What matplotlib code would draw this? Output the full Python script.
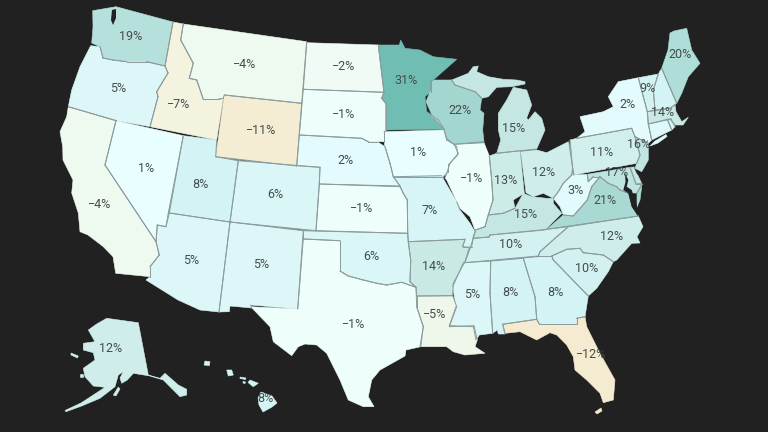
import matplotlib
matplotlib.use("Agg")
import matplotlib.pyplot as plt
from matplotlib.colors import LinearSegmentedColormap, Normalize
from matplotlib.patches import Polygon
from matplotlib.path import Path

# ---- data: change per state, percent ----
states = ["WA","OR","CA","NV","ID","MT","WY","UT","CO","AZ","NM","ND","SD","NE","KS","OK","TX",
          "MN","IA","MO","AR","LA","WI","IL","IN","MI","OH","KY","TN","MS","AL","GA","FL","SC",
          "NC","VA","WV","PA","NY","VT","ME","MA","NJ","MD","AK","HI"]
values = [19,5,-4,1,-7,-4,-11,8,6,5,5,-2,-1,2,-1,6,-1,
          31,1,7,14,-5,22,-1,13,15,12,15,10,5,8,8,-12,10,
          12,21,3,11,2,9,20,14,16,17,12,8]
unlabelled_states = ["NH","CT","RI","DE"]
unlabelled_values = [8,4,7,15]

label_pos = dict(WA=(131,37),OR=(118,89),CA=(100,204),NV=(146,168),ID=(179,105),MT=(245,65),WY=(261,130),
    UT=(200,184),CO=(275,195),AZ=(191,260),NM=(261,265),ND=(344,67),SD=(344,114),NE=(346,161),KS=(362,209),
    OK=(371,257),TX=(354,325),MN=(406,80),IA=(418,153),MO=(430,210),AR=(434,267),LA=(435,314),WI=(460,111),
    IL=(472,179),IN=(506,181),MI=(514,128),OH=(544,173),KY=(526,214),TN=(511,245),MS=(472,294),AL=(510,293),
    GA=(555,292),FL=(591,355),SC=(587,268),NC=(612,237),VA=(605,200),WV=(575,191),PA=(602,152),NY=(628,105),
    VT=(648,89),ME=(680,54),MA=(663,113),NJ=(639,145),MD=(617,173),AK=(111,349),HI=(265,398))

# ---- state outlines traced in image pixels (map geometry) ----
WI_MI_BORDER = [(451.7,80),(455,85),(475,91.7),(481.7,98.3)]
shapes = {
 "WA":[[(92.7,10.7),(116,6.7),(173,22),(165,66),(146.7,61.7),(126.7,61.7),(113,60),(103,58),(100,46.7),(91.7,43),(93,27)]],
 "OR":[[(90.7,45.7),(100,46.7),(103,58),(113,60),(126.7,61.7),(146.7,61.7),(165,66),(168,73),(156.7,91.7),(158,96.7),(150,126.7),(116.7,120.7),(68.3,106.7),(71.7,90),(80,66.7)]],
 "CA":[[(68.3,106.7),(116,120.7),(105,165),(156,241.7),(159.3,255),(150,266.7),(150,276.7),(115.7,273.3),(113,256.7),(103.3,246.7),(88,235),(80,231.7),(78.3,213),(71.7,193),(73,180),(63,160),(62.7,146.7),(60,131.7),(66.7,116.7)]],
 "NV":[[(116,120.7),(183.3,135.7),(168.3,213),(166,226.7),(157.3,225),(156,241.7),(105,165)]],
 "ID":[[(173,22),(183.3,24),(180.7,40),(193.3,63.3),(189.3,78.3),(196.7,80),(203.3,99.3),(218.3,99.3),(223.3,98.3),(216.7,140),(150,126.7),(158,96.7),(156.7,91.7),(168,73),(165,66)]],
 "MT":[[(183.3,24),(306.7,41.7),(301.7,103.3),(224.3,95),(223.3,98.3),(218.3,99.3),(203.3,99.3),(196.7,80),(189.3,78.3),(193.3,63.3),(180.7,40)]],
 "WY":[[(224.3,95),(301.7,103.3),(296.7,166),(215.7,156.7)]],
 "UT":[[(183.3,135.7),(216.7,140),(215.7,156.7),(238.3,160.7),(230,222),(169.3,213)]],
 "CO":[[(238.3,160.7),(320,167.3),(319.3,184),(316,230.7),(230,222)]],
 "AZ":[[(169.3,213),(230,222),(219,312),(200,310),(178,300),(146,280),(150,276.7),(150,266.7),(159.3,255),(156,241.7),(157.3,225),(166,226.7)]],
 "NM":[[(230,222),(303.3,230.7),(297.7,309),(250.7,305),(251.7,308),(230,306),(229.3,311.7),(219,312)]],
 "ND":[[(306.7,42.7),(378.3,45),(384,92.3),(303.3,89.3)]],
 "SD":[[(303.3,89.3),(384,92.3),(381.7,98.3),(385.7,103.3),(385.7,130.7),(384,131.7),(384,141.7),(377.3,141.7),(368.3,141.7),(361.7,138.3),(299.3,135)]],
 "NE":[[(299.3,135),(361.7,138.3),(368.3,141.7),(377.3,141.7),(385,146.7),(390,163.3),(393.3,176.7),(400,186),(319.3,184),(320,167.3),(296.7,165.7)]],
 "KS":[[(319.3,184),(400,186.7),(403.3,193.3),(407.3,200),(407.7,233.3),(316,230.7)]],
 "OK":[[(303.3,230.7),(407.7,233.3),(408.3,241.7),(410.7,260),(410,281.7),(416,287.3),(401.7,282.3),(386.7,285),(376.7,283.3),(363.3,280),(348.3,276),(340,271),(340,240.7),(303.3,239)]],
 "TX":[[(303.3,239),(340,240.7),(340,271),(348.3,276),(363.3,280),(376.7,283.3),(386.7,285),(401.7,282.3),(416,287.3),(416.7,306.7),(423.3,326.7),(420.7,346.7),(406,350),(405,356),(380,370),(371.7,380),(368.3,396.7),(374,406.7),(363.3,406.7),(348.3,400),(340,380),(326.7,353.3),(316.7,345),(305,344),(298.3,346.7),(291.7,355.7),(273.3,341.7),(270,326.7),(250.7,306.7),(297.7,309)]],
 "MN":[[(378.3,45),(399.3,45),(400.7,40),(405,48.3),(420,50),(433.3,56.7),(456.7,59.3),(433.3,80),(430.7,81.7),(430.7,91.7),(425,96.7),(426.7,111.7),(438.3,120),(444.3,129.3),(385.7,130),(385.7,103.3),(381.7,98.3),(384,92.3)]],
 "IA":[[(384,131.7),(444,130),(446.7,138.3),(456.7,146.7),(457.7,155),(448.3,165),(448.3,171.7),(443.3,176.7),(393.3,176.7),(390,163.3),(385,146.7),(384,141.7)]],
 "MO":[[(393.3,176.7),(441.7,175.7),(445,181.7),(456.7,201.7),(460,210),(470,223.3),(475,231.7),(473.3,236.7),(471.7,246.7),(462.7,246.7),(465,239.3),(408.3,241.7),(407.7,233.3),(407.3,200),(403.3,193.3),(400,186)]],
 "AR":[[(408.3,241.7),(465,239.3),(462.7,246.7),(469.3,247.7),(465,261.7),(453.3,283.3),(452.7,295.7),(416.7,296),(416,287.3),(410,281.7),(410.7,260)]],
 "LA":[[(416.7,296),(452.7,295.7),(456.7,306.7),(449.3,326.7),(474,325.7),(477.3,340),(475,346.7),(485,353.3),(465,355),(453.3,351.7),(446.7,346.7),(420,346.7),(423.3,326.7),(416.7,306.7)]],
 "WI":[[(431.7,80),*WI_MI_BORDER,(480,110),(484,113.3),(482.7,130),(484,141.7),(454,144.3),(446.7,140),(444,129.3),(433.3,118.3),(426,101.7),(430,91.7)]],
 "IL":[[(454,144.3),(484,142.7),(489.3,156),(491.7,180),(493,200),(488.3,215),(485,226.7),(475,230),(470,216.7),(460,208.3),(446.7,180),(445,178),(450,163.3),(458.3,153.3)]],
 "IN":[[(489.3,156),(496.7,153.3),(520,150.7),(524.3,193.3),(513.3,200),(515,208.3),(503.3,213.3),(488.3,215),(493,200),(491.7,180)]],
 "OH":[[(520.7,151.7),(536.7,150),(546.7,152.7),(568.3,141.7),(569,143.3),(572.7,168.3),(571.7,175),(563.3,183.3),(558.3,191.7),(553.3,198.3),(543.3,193.3),(533.3,196.7),(526,192.7)]],
 "KY":[[(475.7,230),(485,226.7),(488.3,215),(503.3,213.3),(515,208.3),(523.3,193.3),(531.7,196.7),(546.7,198.3),(553.3,198.3),(553.3,203.3),(561.7,213.3),(545,230),(490,235),(489,237),(473.3,238.3)]],
 "TN":[[(473.3,238.3),(489,237),(490,235),(546.7,229.3),(568.3,226.7),(555,238.3),(540,251.7),(538.3,256),(465,262.7),(470,248.3)]],
 "MS":[[(463.3,262.7),(490.7,261),(490,293.3),(492.7,333.3),(479.3,335),(476,340),(473.3,326.7),(449.3,325.7),(456,306.7),(452.7,286.7)]],
 "AL":[[(490.7,261),(523.3,258.3),(535,296.7),(536.7,319.3),(502.7,324.3),(505,334),(498.3,334),(497.3,330),(492.7,333.3),(490,293.3)]],
 "GA":[[(523.3,258.3),(551.7,256),(553.3,260),(588.3,296),(585,316.7),(576.7,318.3),(576.7,324),(539.3,324),(536.7,319.3),(535,296.7)]],
 "FL":[[(502.7,324.3),(536.7,319.3),(539.3,324),(576.7,324),(576.7,318.3),(585,316.7),(586.7,326.7),(600,353.3),(615,380),(613.3,400),(603.3,402.7),(600,393.3),(586.7,380),(575,370),(573.3,356.7),(566.7,345),(556.7,335),(550,332.7),(536.7,340),(520,331.7),(505,333.3)],
       [(595,412),(601,408),(602,411),(597,414)]],
 "SC":[[(551.7,256),(566.7,249.3),(580,248.3),(583.3,252.7),(603.3,255),(613.3,261.7),(608.3,271.7),(596.7,288.3),(588.3,296),(553.3,260)]],
 "NC":[[(568.3,226.7),(638.3,216),(643,226.7),(637,236.7),(640,243),(631.7,243.3),(616.7,260),(613.3,261.7),(603.3,255),(583.3,252.7),(580,248.3),(566.7,249.3),(551.7,256),(538.3,256),(540,251.7),(555,238.3)]],
 "VA":[[(546.7,229.3),(563.3,215),(573.3,216),(587.3,200),(591.7,186.7),(600,176.7),(608.3,183.3),(616.7,186.7),(620,190),(628.3,193.3),(631.7,206.7),(638.3,216)],
       [(637,193),(642,184),(640,200),(637,207)]],
 "WV":[[(572.7,168.3),(571.7,175),(563.3,183.3),(558.3,191.7),(553.3,198.3),(560,206.7),(563.3,215),(573.3,216),(587.3,200),(591.7,186.7),(600,176.7),(593.3,176.7),(588.3,181.7),(587.3,174.3),(574,175)]],
 "PA":[[(570,140),(576.7,138.3),(631.7,128.3),(635,136.7),(640,155),(636.7,163.3),(573.3,175)]],
 "NY":[[(576.7,138.3),(585,131.7),(580,116.7),(603.3,111.7),(613.3,106.7),(608.3,96.7),(618.3,81.7),(638.3,77.7),(643.3,96.7),(647.3,111.7),(648.3,124),(651.7,140),(648.3,143.3),(635,136.7),(631.7,128.3)],
       [(650,146),(655,141),(666,134.5),(667,136.5),(658,143)]],
 "NJ":[[(635,136.7),(648.3,143.3),(648.3,160),(641.7,171.7),(635,168.3),(636.7,163.3),(640,155)]],
 "DE":[[(630,167.3),(634,167),(641.7,183.5),(636,184)]],
 "MD":[[(587.3,174.3),(630,167.3),(636,184),(642,184),(637,193),(628,193),(620,190),(616.7,186.7),(608.3,183.3),(600,176.7),(593.3,176.7),(588.3,181.7)]],
 "VT":[[(638.3,77.7),(658.3,74),(653.3,90),(655,110),(647.3,111.7),(643.3,96.7)]],
 "NH":[[(658.3,74),(661.7,68.3),(676.7,103.3),(670,108.3),(655,110),(653.3,90)]],
 "ME":[[(661.7,68.3),(668,50),(670,33),(674,31),(686.7,28.3),(691.7,50),(700,63.3),(688.3,76.7),(681.7,93.3),(676.7,103.3)]],
 "MA":[[(647.3,111.7),(670,108.3),(675,105),(676,111.7),(681.7,121.7),(688.3,117.3),(683,125),(675,125),(670,119.3),(648.3,124)]],
 "CT":[[(648.3,124),(667.3,119.3),(671.7,130),(651.7,140)]],
 "RI":[[(667.3,119.3),(671,118.7),(675,126.7),(671.7,130)]],
 "MI":[[(451.7,80),(468.3,73.3),(473.3,66.7),(478.3,66),(476.7,71.7),(488.3,76.7),(503.3,79.3),(516.7,80),(525,81.7),(525,84),(511.7,86.7),(496.7,87.3),(488.3,96.7),(481.7,98.3),(475,91.7),(455,85)],
       [(496.7,153.3),(536.7,149),(545,130),(541.7,118.3),(535,111.7),(528.3,120),(526.7,118),(531.7,105),(526.7,90),(513.3,87.3),(506.7,100),(498.3,113.3),(498.3,130),(500.7,140)]],
 "AK":[[(106.7,318.3),(138.3,322.7),(148.3,375),(160,378.3),(165,373.3),(178.3,385),(186.7,389.3),(186.7,395),(180,396.7),(163.3,380),(150,376),(133.3,373.3),(127.3,380),(121.7,383.3),(120,378),(123.3,371.7),(118.3,375),(115,386.7),(100,398.3),(81.7,406),(66,411.7),(65,410.5),(81,403),(93.3,395),(105,387.3),(93.3,386),(85,376.7),(83.3,368.3),(95,360),(93.3,352.7),(83.3,350),(83.3,343.3),(95,341.7),(88.3,330),(96.7,324)],
       [(118.3,387),(113.3,395),(116,396),(120,389)],[(71,353),(78.3,356),(77.5,358),(71,355)],[(80,374),(83,374),(83,377),(80,377)]],
 "HI":[[(261,392),(272,396),(277,403),(272,407),(263,412),(259,405),(258,398)],[(250,380),(258.3,383.3),(253.3,386.7),(248,382.5)],
       [(226.7,370),(231.7,370),(233.3,375),(228.3,376)],[(205,361),(210,361.7),(209.3,365.7),(204,365)],[(240,377),(246,378),(245.5,379.5),(240,378.5)],[(243,381.5),(245.5,382),(245,383.5),(243,383)]],
}
# Chesapeake Bay, Puget Sound and Delaware Bay cut-outs
water = [
 [(625,173.3),(628.3,180),(626.7,186.7),(631.7,190),(636.7,205),(638.3,216.7),(631.7,206.7),(628.3,193.3),(623.3,190),(625.5,182)],
 [(112,10),(116,9),(116,18),(113,25),(111,20)],
 [(634,167.5),(636,170),(640,176),(637,174)],
]

# ---- styling ----
BG = "#212121"
LINE = "#8c9c9c"
stops = [(-12,"#f5ebd0"),(-11,"#f5edd3"),(-7,"#f3f3e0"),(-5,"#eff7ea"),(-4,"#eef9f1"),(-2,"#f0fbf6"),(-1,"#eefefb"),
         (1,"#e8feff"),(2,"#e3fbfd"),(5,"#ddf7f9"),(8,"#d4f3f4"),(12,"#cfeeeb"),(14,"#c9e9e5"),(19,"#b5e0dc"),(22,"#a3d6cf"),(31,"#6fbdb3")]
norm = Normalize(-12, 31)
cmap = LinearSegmentedColormap.from_list("div", [(float(norm(v)), c) for v, c in stops])

plt.rcParams["font.family"] = ["Roboto", "DejaVu Sans"]
fig = plt.figure(figsize=(7.68, 4.32), dpi=100, facecolor=BG)
ax = fig.add_axes([0, 0, 1, 1], facecolor=BG)
ax.set_xlim(0, 768); ax.set_ylim(432, 0); ax.axis("off")

all_vals = dict(zip(states + unlabelled_states, values + unlabelled_values))
paths = {st: [Path(p + [p[0]]) for p in parts] for st, parts in shapes.items()}
for st, parts in shapes.items():
    col = cmap(norm(all_vals[st]))
    for p in parts:
        ax.add_patch(Polygon(p, closed=True, facecolor=col, edgecolor=col, linewidth=0.4))

def near_other(pt, st):
    for other, plist in paths.items():
        if other == st:
            continue
        for path in plist:
            if path.contains_point(pt, radius=1.6) or path.contains_point(pt, radius=-1.6):
                return True
    return False

# only state-to-state borders get a line; coasts stay clean
for st, parts in shapes.items():
    for p in parts:
        q = p + [p[0]]
        for (x0, y0), (x1, y1) in zip(q[:-1], q[1:]):
            mid = ((x0 + x1) / 2, (y0 + y1) / 2)
            if near_other(mid, st):
                ax.plot([x0, x1], [y0, y1], color=LINE, lw=0.7, solid_capstyle="round")

for p in water:
    ax.add_patch(Polygon(p, closed=True, facecolor=BG, edgecolor="none", zorder=3))

for st, v in zip(states, values):
    x, y = label_pos[st]
    txt = f"{v}%".replace("-", "\u2212")
    ax.text(x, y, txt, ha="center", va="center", fontsize=9, color="#454c4d", zorder=4)

fig.savefig("out.png", dpi=100, facecolor=BG)
